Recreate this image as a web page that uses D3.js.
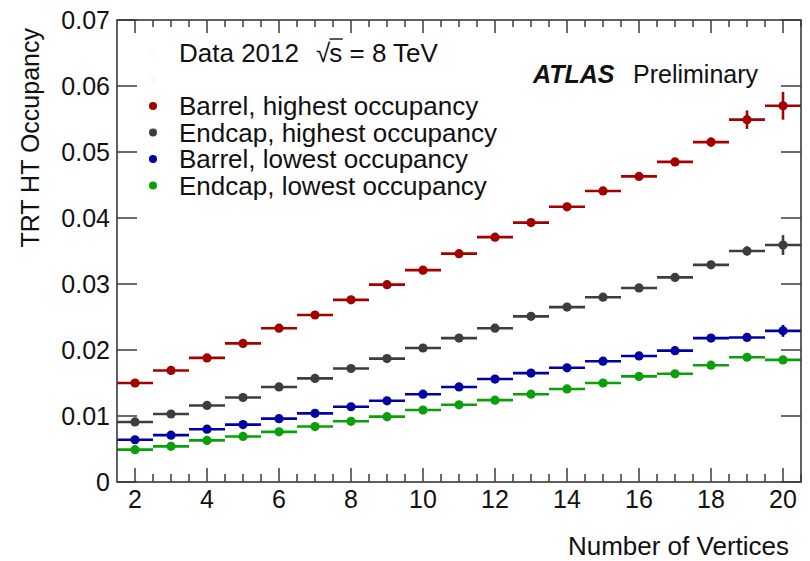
<!DOCTYPE html>
<html>
<head>
<meta charset="utf-8">
<script src="https://cdn.jsdelivr.net/npm/d3@7"></script>
<style>
  html, body { margin: 0; padding: 0; background: #fff; }
  svg { display: block; font-family: "Liberation Sans", Arial, Helvetica, sans-serif; }
</style>
</head>
<body>
<svg id="chart" width="810" height="561"></svg>
<script>
// Number of reconstructed vertices (bin centres, bins are one unit wide)
const vertices = [2,3,4,5,6,7,8,9,10,11,12,13,14,15,16,17,18,19,20];

// Mean TRT high-threshold occupancy per bin
const barrelHighest = [0.0150,0.0169,0.0188,0.0210,0.0233,0.0253,0.0276,0.0299,0.0321,0.0346,0.0371,0.0393,0.0417,0.0441,0.0463,0.0485,0.0515,0.0549,0.0570];
const endcapHighest = [0.0091,0.0103,0.0116,0.0128,0.0144,0.0157,0.0172,0.0187,0.0203,0.0218,0.0233,0.0251,0.0265,0.0280,0.0294,0.0310,0.0329,0.0350,0.0359];
const barrelLowest  = [0.0064,0.0071,0.0080,0.0087,0.0096,0.0104,0.0114,0.0123,0.0133,0.0144,0.0156,0.0165,0.0173,0.0183,0.0191,0.0199,0.0218,0.0219,0.0229];
const endcapLowest  = [0.0049,0.0054,0.0063,0.0069,0.0076,0.0084,0.0092,0.0099,0.0109,0.0117,0.0124,0.0133,0.0141,0.0150,0.0160,0.0164,0.0177,0.0189,0.0185];

// Statistical uncertainties per bin
const barrelHighestErr = [0.0002,0.0002,0.0002,0.0002,0.0002,0.0002,0.0002,0.0002,0.0002,0.0002,0.0003,0.0003,0.0003,0.0003,0.0004,0.0005,0.0007,0.0014,0.0021];
const endcapHighestErr = [0.0002,0.0002,0.0002,0.0002,0.0002,0.0002,0.0002,0.0002,0.0002,0.0002,0.0002,0.0002,0.0002,0.0002,0.0003,0.0003,0.0004,0.0007,0.0015];
const barrelLowestErr  = [0.0001,0.0001,0.0001,0.0001,0.0001,0.0001,0.0001,0.0001,0.0001,0.0001,0.0001,0.0001,0.0002,0.0002,0.0002,0.0002,0.0003,0.0005,0.0009];
const endcapLowestErr  = [0.0001,0.0001,0.0001,0.0001,0.0001,0.0001,0.0001,0.0001,0.0001,0.0001,0.0001,0.0001,0.0002,0.0002,0.0002,0.0002,0.0003,0.0004,0.0006];

const seriesNames  = ["Barrel, highest occupancy","Endcap, highest occupancy","Barrel, lowest occupancy","Endcap, lowest occupancy"];
const seriesColors = ["#a30000","#3d3d3d","#0000a3","#0aa00a"];

const xMajorTicks = [2,4,6,8,10,12,14,16,18,20];
const yTicks = [0,0.01,0.02,0.03,0.04,0.05,0.06,0.07];
const yTickLabels = ["0","0.01","0.02","0.03","0.04","0.05","0.06","0.07"];

const series = [
  {values: barrelHighest, errors: barrelHighestErr},
  {values: endcapHighest, errors: endcapHighestErr},
  {values: barrelLowest,  errors: barrelLowestErr},
  {values: endcapLowest,  errors: endcapLowestErr}
].map((s, i) => ({...s, name: seriesNames[i], color: seriesColors[i]}));

const svg = d3.select("#chart");
const frame = {left: 117, right: 801, top: 20, bottom: 482};

const x = d3.scaleLinear().domain([1.5, 20.5]).range([frame.left, frame.right]);
const y = d3.scaleLinear().domain([0, 0.07]).range([frame.bottom, frame.top]);

const axisColor = "#3a3a3a";
const tickFont = 25;
const textFont = 26;

// Data: horizontal bin-width bars, vertical error bars, markers
const plot = svg.append("g");
series.forEach(s => {
  const g = plot.append("g").attr("stroke", s.color).attr("fill", s.color);
  vertices.forEach((v, i) => {
    const val = s.values[i], err = s.errors[i];
    g.append("line")
      .attr("x1", x(v - 0.5)).attr("x2", x(v + 0.5))
      .attr("y1", y(val)).attr("y2", y(val))
      .attr("stroke-width", 2.6);
    g.append("line")
      .attr("x1", x(v)).attr("x2", x(v))
      .attr("y1", y(val - err)).attr("y2", y(val + err))
      .attr("stroke-width", 2.6);
    g.append("circle")
      .attr("cx", x(v)).attr("cy", y(val)).attr("r", 4.6)
      .attr("stroke", "none");
  });
});

// Frame
svg.append("rect")
  .attr("x", frame.left).attr("y", frame.top)
  .attr("width", frame.right - frame.left).attr("height", frame.bottom - frame.top)
  .attr("fill", "none").attr("stroke", axisColor).attr("stroke-width", 1.6);

// Bottom and top x ticks (major every 2, minor every 0.5)
const xMinor = d3.range(2, 20.51, 0.5).filter(v => !xMajorTicks.includes(v));
const ticks = svg.append("g").attr("stroke", axisColor).attr("stroke-width", 1.5);
xMajorTicks.forEach(v => {
  ticks.append("line").attr("x1", x(v)).attr("x2", x(v)).attr("y1", frame.bottom).attr("y2", frame.bottom - 14);
  ticks.append("line").attr("x1", x(v)).attr("x2", x(v)).attr("y1", frame.top).attr("y2", frame.top + 13);
});
xMinor.forEach(v => {
  ticks.append("line").attr("x1", x(v)).attr("x2", x(v)).attr("y1", frame.bottom).attr("y2", frame.bottom - 8);
  ticks.append("line").attr("x1", x(v)).attr("x2", x(v)).attr("y1", frame.top).attr("y2", frame.top + 7);
});
// Left and right y ticks
yTicks.forEach(v => {
  ticks.append("line").attr("x1", frame.left).attr("x2", frame.left + 20).attr("y1", y(v)).attr("y2", y(v));
  ticks.append("line").attr("x1", frame.right).attr("x2", frame.right - 20).attr("y1", y(v)).attr("y2", y(v));
});

// Tick labels
const labels = svg.append("g").attr("fill", "#111").attr("font-size", tickFont);
xMajorTicks.forEach(v => {
  labels.append("text").attr("x", x(v)).attr("y", 508).attr("text-anchor", "middle").text(v);
});
yTicks.forEach((v, i) => {
  labels.append("text").attr("x", 110).attr("y", y(v) + 9).attr("text-anchor", "end").text(yTickLabels[i]);
});

// Axis titles
svg.append("text")
  .attr("transform", "translate(39,28) rotate(-90)")
  .attr("text-anchor", "end").attr("font-size", tickFont).attr("fill", "#111")
  .text("TRT HT Occupancy");
svg.append("text")
  .attr("x", 789).attr("y", 555).attr("text-anchor", "end")
  .attr("font-size", textFont).attr("fill", "#111")
  .text("Number of Vertices");

// Legend
const legend = svg.append("g").attr("font-size", textFont).attr("fill", "#111");
const legendX = 153, textX = 179, rowY0 = 53, rowStep = 26.5;
// header rows carry blank (white) markers
[0, 1].forEach(r => {
  legend.append("circle").attr("cx", legendX).attr("cy", rowY0 + r * rowStep).attr("r", 4)
    .attr("fill", "#fbfbfb");
});
const header = legend.append("text").attr("x", textX).attr("y", rowY0 + 9);
header.append("tspan").text("Data 2012");
header.append("tspan").attr("id", "sqrtSign").attr("dx", 17).text("\u221A");
header.append("tspan").attr("id", "sqrtArg").attr("dx", -1).text("s");
header.append("tspan").text(" = 8 TeV");
// overline of the square root
const sb = document.getElementById("sqrtSign").getBBox();
const ab = document.getElementById("sqrtArg").getBBox();
legend.append("line")
  .attr("x1", sb.x + sb.width - 1.5).attr("x2", ab.x + ab.width + 0.5)
  .attr("y1", rowY0 - 14).attr("y2", rowY0 - 14)
  .attr("stroke", "#111").attr("stroke-width", 1.4);

series.forEach((s, i) => {
  const cy = rowY0 + (i + 2) * rowStep;
  legend.append("circle").attr("cx", legendX).attr("cy", cy).attr("r", 4).attr("fill", s.color);
  legend.append("text").attr("x", textX).attr("y", cy + 9).text(s.name);
});

// Experiment label
const atlas = svg.append("text").attr("x", 533).attr("y", 83).attr("font-size", tickFont).attr("fill", "#111");
atlas.append("tspan").attr("font-weight", "bold").attr("font-style", "italic").text("ATLAS");
atlas.append("tspan").attr("x", 633).text("Preliminary");
</script>
</body>
</html>
